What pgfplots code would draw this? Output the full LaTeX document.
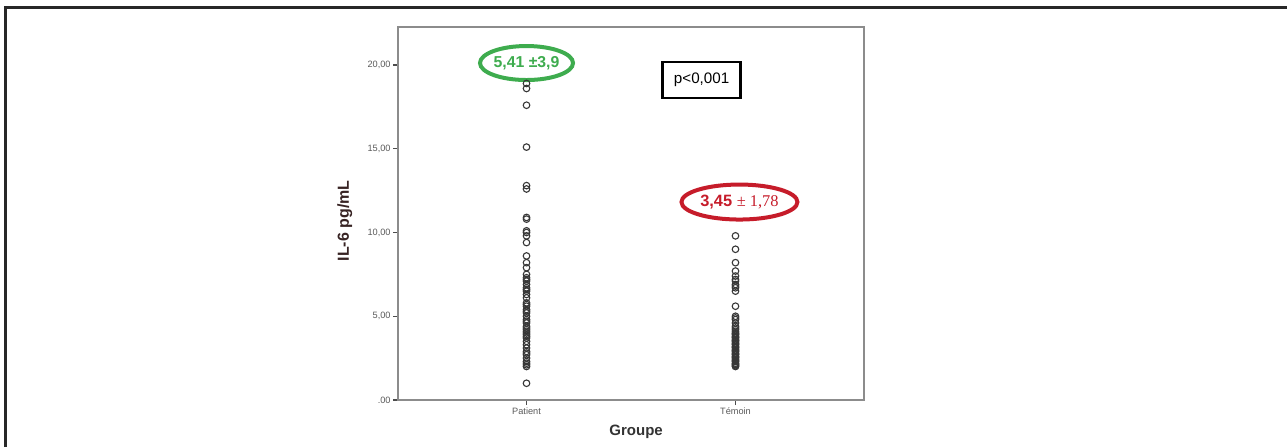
\documentclass[border=0pt]{standalone}
\usepackage{pgfplots}
\pgfplotsset{compat=1.18}
\usetikzlibrary{shapes.geometric}
\usepackage{fontspec}
\setmainfont{Liberation Sans}
\newfontfamily\seriffont{Liberation Serif}
\definecolor{ptgray}{RGB}{55,55,55}
\definecolor{axgray}{RGB}{140,140,140}
\definecolor{tickgray}{RGB}{90,90,90}
\definecolor{grn}{RGB}{62,172,78}
\definecolor{rd}{RGB}{198,28,42}
\definecolor{frame}{RGB}{40,40,40}
\definecolor{lab}{RGB}{55,35,35}
\begin{document}
\begin{tikzpicture}
\path[use as bounding box] (0pt,0pt) rectangle (643.5pt,223.5pt);
\draw[frame,line width=1.5pt] (2.5pt,0pt) -- (2.5pt,220pt) -- (643.5pt,220pt);
\begin{axis}[
  at={(199pt,23.5pt)}, anchor=south west,
  width=233pt, height=186.5pt, scale only axis,
  xmin=0.385, xmax=2.615, ymin=0, ymax=22.27,
  axis line style={axgray, line width=0.75pt},
  xtick={1,2}, xticklabels={Patient,Témoin},
  ytick={0,5,10,15,20},
  yticklabels={{.00},{5,00},{10,00},{15,00},{20,00}},
  tick align=outside, major tick length=2.5pt,
  tick style={black!70, line width=0.6pt},
  xtick pos=bottom, ytick pos=left,
  ticklabel style={font=\fontsize{4.6}{5}\selectfont, text=tickgray},
  xticklabel style={inner sep=1pt},
  yticklabel style={inner sep=1pt},
  ylabel={\textbf{IL-6 pg/mL}},
  ylabel style={at={(axis description cs:-0.114,0.48)}, anchor=center, font=\fontsize{8}{9}\selectfont, text=lab},
  xlabel={\textbf{Groupe}},
  xlabel style={at={(axis description cs:0.511,-0.0858)}, anchor=center, font=\fontsize{7.5}{9}\selectfont, text=black!80},
  clip=false,
]
\addplot[only marks, mark=o, mark size=1.65pt, mark options={ptgray, line width=0.55pt}] coordinates {
(1,18.9) (1,18.6) (1,17.6) (1,15.1) (1,12.8) (1,12.6) (1,10.9) (1,10.8) (1,10.1) (1,10.0) (1,9.8) (1,9.4)
(1,8.6) (1,8.2) (1,7.9) (1,7.5) (1,7.3) (1,7.2) (1,7.1) (1,6.9) (1,6.7) (1,6.6) (1,6.5) (1,6.3) (1,6.1) (1,5.8)
(1,5.7) (1,5.6) (1,5.4) (1,5.3) (1,5.2) (1,5.0) (1,4.8) (1,4.7) (1,4.6) (1,4.4) (1,4.3) (1,4.2) (1,4.1) (1,4.0) (1,3.9) (1,3.8) (1,3.7)
(1,3.5) (1,3.3) (1,3.1) (1,2.9) (1,2.8) (1,2.7) (1,2.5) (1,2.3) (1,2.2) (1,2.1) (1,2.0) (1,1.0)
};
\addplot[only marks, mark=o, mark size=1.65pt, mark options={ptgray, line width=0.55pt}] coordinates {
(2,9.8) (2,9.0) (2,8.2) (2,7.7) (2,7.4) (2,7.2) (2,7.1) (2,6.9) (2,6.8) (2,6.7) (2,6.5) (2,5.6) (2,5.0) (2,4.9) (2,4.8)
(2,4.6) (2,4.4) (2,4.3) (2,4.2) (2,4.1) (2,4.0) (2,3.95) (2,3.9) (2,3.8) (2,3.75) (2,3.7) (2,3.6) (2,3.55) (2,3.5) (2,3.4) (2,3.35) (2,3.3) (2,3.2)
(2,3.15) (2,3.1) (2,3.0) (2,2.95) (2,2.9) (2,2.8) (2,2.75) (2,2.7) (2,2.6) (2,2.55) (2,2.5) (2,2.4) (2,2.35) (2,2.3) (2,2.2) (2,2.15) (2,2.1) (2,2.05) (2,2.0)
};
\node[draw=grn, line width=2pt, ellipse, fill=white, minimum width=41pt, minimum height=17pt, inner sep=0pt,
  text=grn, font=\bfseries\fontsize{7.9}{9}\selectfont] at (axis cs:1,20.12) {5,41 ±3,9};
\node[draw=black, line width=0.7pt, rectangle, fill=white, minimum width=38.5pt, minimum height=18pt, inner sep=0pt,
  font=\fontsize{7.6}{9}\selectfont] (pb) at (axis cs:1.838,19.1) {p<0,001};
\draw[black, line width=1.6pt] (pb.north west) -- (pb.south west);
\draw[black, line width=1.6pt] (pb.north east) -- (pb.south east);
\node[draw=rd, line width=2pt, ellipse, fill=white, minimum width=58pt, minimum height=17.5pt, inner sep=0pt,
  text=rd, font=\fontsize{8.2}{9}\selectfont] at (axis cs:2.019,11.82) {\textbf{3,45} {\seriffont ± 1,78}};
\end{axis}
\end{tikzpicture}
\end{document}
